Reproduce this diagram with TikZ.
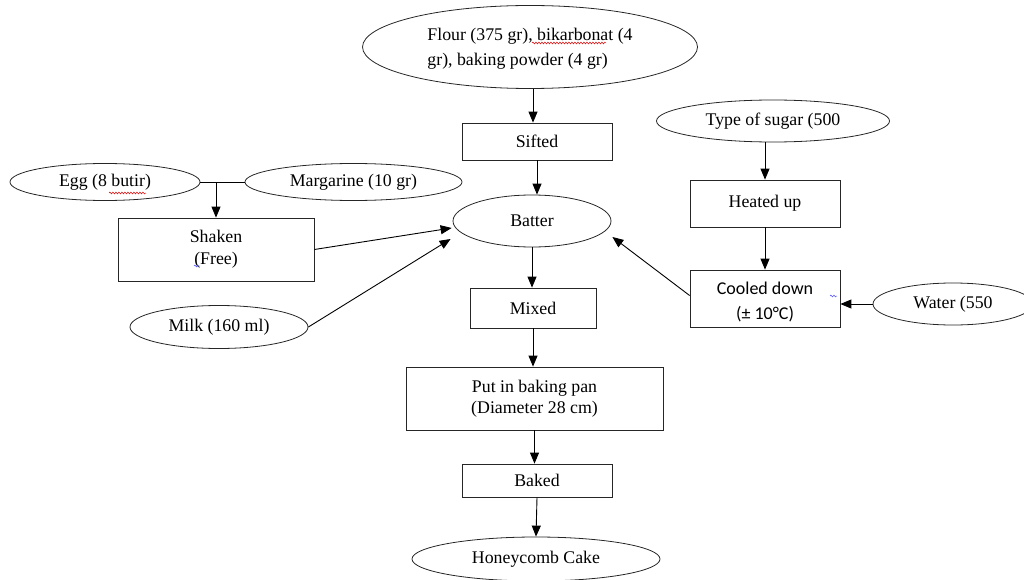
\documentclass[tikz,border=0pt]{standalone}
\usepackage{fontspec}
\setmainfont{Liberation Serif}
\newfontfamily\calibrifont{Carlito}
\usetikzlibrary{shapes.geometric,arrows.meta,calc,decorations.pathmorphing}
\begin{document}
\begin{tikzpicture}[x=1pt,y=-1pt,
  every node/.style={font=\fontsize{17.8}{25}\selectfont, inner sep=0pt, align=center},
  box/.style={draw=black!85, rectangle, line width=0.8pt},
  oval/.style={draw=black!85, ellipse, line width=0.8pt},
  arr/.style={-{Triangle[length=11pt,width=9pt]}, line width=0.9pt},
  ln/.style={line width=0.9pt},
  squigr/.style={red!85!black, line width=0.5pt, decorate, decoration={snake, amplitude=0.9pt, segment length=3pt}},
  squigb/.style={blue!70, line width=0.5pt, decorate, decoration={snake, amplitude=0.9pt, segment length=3pt}}]
\useasboundingbox (0,0) rectangle (1024,580);
\clip (0,0) rectangle (1024,580);

% nodes
\node[oval, minimum width=335, minimum height=83, align=left] (flour) at (530,47) {};
\node[align=left] (flourtext) at ($(flour.center)+(0,2)$) {Flour (375 gr), bikarbonat (4\\gr), baking powder (4 gr)};
\node[box, minimum width=150, minimum height=37] (sifted) at (537,141.5) {Sifted};
\node[oval, minimum width=158, minimum height=52] (batter) at (532,221) {Batter};
\node[oval, minimum width=190, minimum height=37] (egg) at (105,182) {Egg (8 butir)};
\node[oval, minimum width=217, minimum height=37] (marg) at (353.5,182) {Margarine (10 gr)};
\node[box, minimum width=196, minimum height=63, font=\fontsize{17.8}{22}\selectfont] (shaken) at (216,249.5) {Shaken\\(Free)};
\node[oval, minimum width=178, minimum height=43] (milk) at (219,327) {Milk (160 ml)};
\node[box, minimum width=126, minimum height=40] (mixed) at (533,308) {Mixed};
\node[box, minimum width=257, minimum height=63, font=\fontsize{17.8}{21}\selectfont] (put) at (534.5,398.5) {Put in baking pan\\(Diameter 28 cm)};
\node[box, minimum width=150, minimum height=33] (baked) at (537,480.5) {Baked};
\node[oval, minimum width=248, minimum height=44] (honey) at (536,559) {Honeycomb Cake};
\node[oval, minimum width=233, minimum height=42] (sugar) at (773,121) {Type of sugar (500};
\node[box, minimum width=150, minimum height=47] (heated) at (765,203.5) {Heated up};
\node[box, minimum width=150, minimum height=57] (cooled) at (765,298.5) {};
\node[font=\calibrifont\fontsize{18}{25}\selectfont] (cooledtext) at ($(cooled.center)+(0,3)$) {Cooled down\\(\textpm{} 10°C)};
\node[oval, minimum width=160, minimum height=42] (water) at (953,304) {Water (550};

% connectors
\draw[arr] (flour.south -| 533,0) -- (533,0 |- sifted.north);
\draw[arr] (sifted.south) -- (sifted.south |- batter.north);
\draw[arr] (batter.south) -- (batter.south |- mixed.north);
\draw[arr] (mixed.south) -- (mixed.south |- put.north);
\draw[arr] (put.south) -- (put.south |- baked.north);
\draw[arr] (baked.south) -- (honey.north);
\draw[arr] (heated.north |- sugar.south) -- (heated.north);
\draw[arr] (heated.south) -- (cooled.north);
\draw[arr] (water.west) -- (water.west -| cooled.east);
\draw[arr] ($(cooled.west)+(0,-3)$) -- ($(batter.east)+(1,16)$);
\draw[ln] (egg.east) -- (marg.west);
\draw[arr] (egg.east -| shaken.north) -- (shaken.north);
\draw[arr] (shaken.east) -- ($(batter.west)+(-1,7)$);
\draw[arr] (milk.east) -- ($(batter.west)+(-2,18)$);

% spell-check marks
\draw[squigr] (532,43) -- (606,43);
\draw[squigr] (109,193) -- (146,193);
\draw[squigb] (194,266) -- (200,266);
\draw[squigb] (830,296) -- (837,296);
\end{tikzpicture}
\end{document}
